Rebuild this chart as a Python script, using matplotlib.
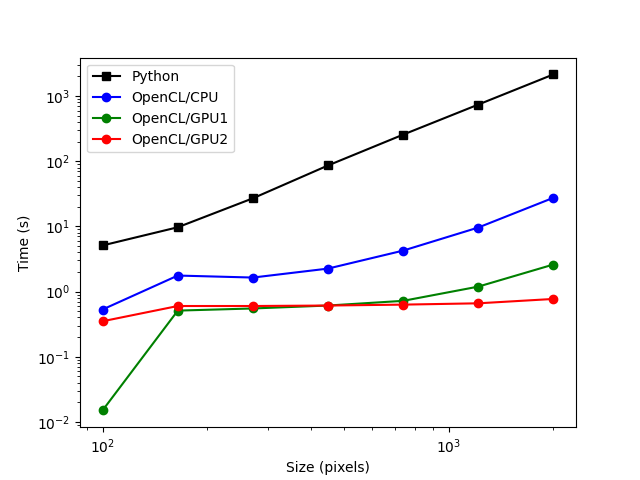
import matplotlib
matplotlib.use('Agg')
import matplotlib.pyplot as plt

# image sizes (pixels) and timings
sizes = [100, 165, 272, 448, 739, 1218, 2009]
t_python = [5.1, 9.7, 27, 86, 256, 740, 2150]
t_cpu = [0.53, 1.76, 1.64, 2.25, 4.25, 9.6, 27.5]
t_gpu1 = [0.015, 0.51, 0.55, 0.61, 0.72, 1.19, 2.6]
t_gpu2 = [0.35, 0.60, 0.60, 0.61, 0.63, 0.66, 0.77]

plt.figure(figsize=(6.4, 4.8))
plt.loglog(sizes, t_python, 'ks-', label='Python')
plt.loglog(sizes, t_cpu, 'bo-', label='OpenCL/CPU')
plt.loglog(sizes, t_gpu1, 'go-', label='OpenCL/GPU1')
plt.loglog(sizes, t_gpu2, 'ro-', label='OpenCL/GPU2')
plt.xlabel('Size (pixels)')
plt.ylabel('Time (s)')
plt.legend(loc='upper left')
plt.savefig('out.png', dpi=100)
